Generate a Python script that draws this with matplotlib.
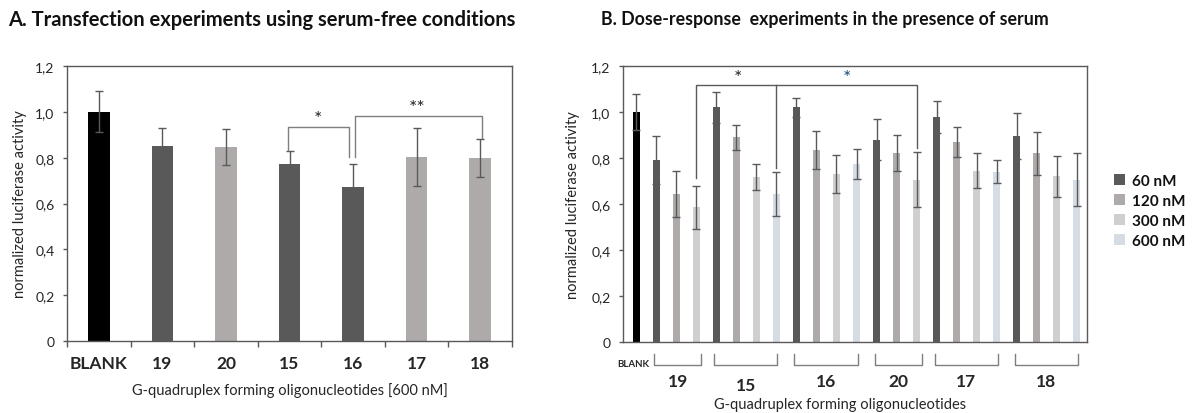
import matplotlib
matplotlib.use("Agg")
import matplotlib.pyplot as plt
from matplotlib.patches import Patch

plt.rcParams['font.family'] = ['Lato', 'DejaVu Sans']

# ---------------- Panel A data ----------------
a_categories = ["BLANK", "19", "20", "15", "16", "17", "18"]
a_values = [1.00, 0.85, 0.847, 0.772, 0.671, 0.802, 0.798]
a_errors = [0.09, 0.08, 0.077, 0.057, 0.10, 0.127, 0.082]
a_colors = ["#000000", "#595959", "#aeaaaa", "#595959", "#595959", "#aeaaaa", "#aeaaaa"]

# ---------------- Panel B data ----------------
b_groups = ["19", "15", "16", "20", "17", "18"]
b_concs = ["60 nM", "120 nM", "300 nM", "600 nM"]
b_conc_colors = ["#595959", "#aeaaaa", "#d0cece", "#d6dce4"]
blank_value = 1.00
blank_error = 0.08
# values per group, in the order of the concentrations present
b_values = {
    "19": [0.79, 0.645, 0.585],
    "15": [1.02, 0.89, 0.718, 0.645],
    "16": [1.02, 0.835, 0.73, 0.773],
    "20": [0.88, 0.82, 0.706],
    "17": [0.977, 0.87, 0.745, 0.74],
    "18": [0.897, 0.82, 0.72, 0.705],
}
b_errors = {
    "19": [0.105, 0.10, 0.095],
    "15": [0.068, 0.055, 0.055, 0.095],
    "16": [0.042, 0.082, 0.082, 0.065],
    "20": [0.088, 0.078, 0.12],
    "17": [0.07, 0.065, 0.077, 0.05],
    "18": [0.10, 0.095, 0.09, 0.115],
}

W, H = 1195, 414
fig = plt.figure(figsize=(W / 100, H / 100), dpi=100)

spine_col = "#595959"
err_col = "#595959"
txt_col = "#262626"

# ================= Panel A =================
axA = fig.add_axes([67 / W, 1 - 342 / H, (512 - 67) / W, (342 - 67) / H])
xa = list(range(len(a_categories)))
axA.bar(xa, a_values, width=0.34, color=a_colors, zorder=2)
axA.errorbar(xa, a_values, yerr=a_errors, fmt="none", ecolor=err_col,
             elinewidth=1.0, capsize=3, capthick=1.0, zorder=3)
axA.set_xlim(-0.5, len(a_categories) - 0.5)
axA.set_ylim(0, 1.2)
axA.set_yticks([0, 0.2, 0.4, 0.6, 0.8, 1.0, 1.2])
axA.set_yticklabels(["0", "0,2", "0,4", "0,6", "0,8", "1,0", "1,2"], fontsize=10, color=txt_col)
axA.set_xticks([i - 0.5 for i in range(len(a_categories) + 1)], minor=False)
axA.set_xticklabels([])
axA.set_xticks(xa, minor=True)
axA.set_xticklabels(a_categories, minor=True, fontsize=12.5, fontweight="bold", color=txt_col)
axA.tick_params(axis="x", which="major", length=4, width=1, color=spine_col, direction="out")
axA.tick_params(axis="x", which="minor", length=0, pad=10)
axA.tick_params(axis="y", length=3, width=1, color=spine_col, pad=6)
for s in axA.spines.values():
    s.set_color(spine_col)
    s.set_linewidth(1.0)
axA.set_ylabel("normalized luciferase activity", fontsize=10.5, color=txt_col, labelpad=6)
axA.set_xlabel("G-quadruplex forming oligonucleotides [600 nM]", fontsize=10.5, color=txt_col, labelpad=8)

br = dict(color="#7f7f7f", lw=1.0, zorder=4)
axA.plot([2.97, 2.97, 3.94, 3.94], [0.835, 0.935, 0.935, 0.805], **br)
axA.text(3.45, 0.935, "*", ha="center", va="bottom", fontsize=14, color=txt_col)
axA.plot([4.03, 4.03, 6.03, 6.03], [0.805, 0.98, 0.98, 0.885], **br)
axA.text(5.0, 0.98, "**", ha="center", va="bottom", fontsize=14, color=txt_col)

fig.text(262 / W, 1 - 20 / H, "A. Transfection experiments using serum-free conditions",
         ha="center", va="center", fontsize=14.5, fontweight="bold", color="#111111")

# ================= Panel B =================
axB = fig.add_axes([623 / W, 1 - 343 / H, (1087 - 623) / W, (343 - 67) / H])
pos = 0
axB.bar([pos], [blank_value], width=0.35, color="#000000", zorder=2)
axB.errorbar([pos], [blank_value], yerr=[blank_error], fmt="none", ecolor=err_col,
             elinewidth=1.0, capsize=3, capthick=1.0, zorder=3)
pos += 1
group_spans = []
for g in b_groups:
    vals = b_values[g]
    errs = b_errors[g]
    xs = list(range(pos, pos + len(vals)))
    cols = b_conc_colors[:len(vals)]
    axB.bar(xs, vals, width=0.35, color=cols, zorder=2)
    axB.errorbar(xs, vals, yerr=errs, fmt="none", ecolor=err_col,
                 elinewidth=1.0, capsize=3, capthick=1.0, zorder=3)
    group_spans.append((xs[0], xs[-1]))
    pos += len(vals)

axB.set_xlim(-0.65, pos - 1 + 0.5)
axB.set_ylim(0, 1.2)
axB.set_yticks([0, 0.2, 0.4, 0.6, 0.8, 1.0, 1.2])
axB.set_yticklabels(["0", "0,2", "0,4", "0,6", "0,8", "1,0", "1,2"], fontsize=10, color=txt_col)
axB.set_xticks([])
axB.tick_params(axis="y", length=3, width=1, color=spine_col, pad=6)
for s in axB.spines.values():
    s.set_color(spine_col)
    s.set_linewidth(1.0)
axB.set_ylabel("normalized luciferase activity", fontsize=10.5, color=txt_col, labelpad=8)
fig.text(840 / W, 1 - 405 / H, "G-quadruplex forming oligonucleotides",
         ha="center", va="center", fontsize=10.5, color=txt_col)

# group brackets under the axis
bk = dict(color="#7f7f7f", lw=1.0, clip_on=False)
label_off = {"15": -0.185}
for g, (x0, x1) in zip(b_groups, group_spans):
    left = x0 - 0.1
    right = x1 + (0.25 if x1 - x0 < 3 else 0.05)
    axB.plot([left, left, right, right], [-0.05, -0.1, -0.1, -0.05], **bk)
    axB.text((left + right) / 2, label_off.get(g, -0.17), g, ha="center", va="center",
             fontsize=12.5, fontweight="bold", color=txt_col, clip_on=False)
axB.text(-0.15, -0.095, "BLANK", ha="center", va="center", fontsize=7,
         fontweight="bold", color=txt_col, clip_on=False)

# significance brackets
sb = dict(color="#595959", lw=1.0, zorder=4)
axB.plot([3, 3, 14, 14], [0.712, 1.116, 1.116, 0.845], **sb)
axB.plot([7, 7], [1.116, 0.755], **sb)
axB.text(5.1, 1.112, "*", ha="center", va="bottom", fontsize=14, color=txt_col)
axB.text(10.5, 1.112, "*", ha="center", va="bottom", fontsize=14, color="#1f4e79")

handles = [Patch(facecolor=c, edgecolor="none") for c in b_conc_colors]
fig.legend(handles, b_concs, loc="center left", bbox_to_anchor=(1114 / W, 1 - 212 / H),
           borderaxespad=0, borderpad=0, frameon=False,
           prop={"size": 11, "weight": "bold"}, handlelength=0.7,
           handleheight=0.7, handletextpad=0.5, labelspacing=0.4, labelcolor="#111111")

fig.text(825 / W, 1 - 20 / H, "B. Dose-response  experiments in the presence of serum",
         ha="center", va="center", fontsize=12.8, fontweight="bold", color="#111111")

fig.savefig("out.png", dpi=100)
